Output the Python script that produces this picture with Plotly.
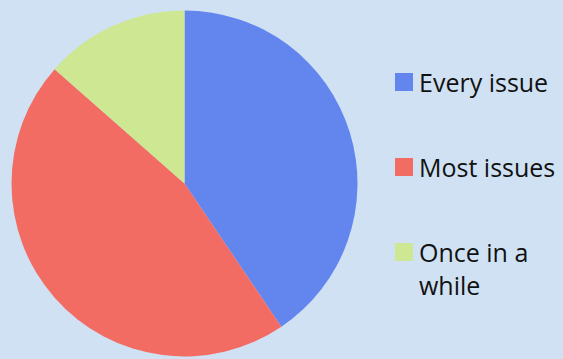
import plotly.graph_objects as go

categories = ["Every issue", "Most issues", "Once in a<br>while"]
values = [30, 34, 10]
colors = ["#6386ee", "#f26c64", "#cde792"]

BG = "#d0e1f3"

fig = go.Figure()
fig.add_trace(go.Pie(
    labels=categories,
    values=values,
    sort=False,
    direction="clockwise",
    rotation=0,
    marker=dict(colors=colors, line=dict(width=0)),
    textinfo="none",
    hoverinfo="label+percent",
    showlegend=False,
    domain=dict(x=[0.0204, 0.6350], y=[0.007, 0.971]),
))

# Custom legend: squares + labels
legend_y = [82, 167, 252]  # square centres (px from top)
W, H = 563, 359
shapes = []
annotations = []
for lab, col, yc in zip(categories, colors, legend_y):
    shapes.append(dict(
        type="rect", xref="paper", yref="paper",
        x0=395 / W, x1=413 / W,
        y0=1 - (yc + 9) / H, y1=1 - (yc - 9) / H,
        fillcolor=col, line=dict(width=0),
    ))
    annotations.append(dict(
        text=lab, xref="paper", yref="paper",
        x=417 / W, y=1 - (yc - 19) / H,
        xanchor="left", yanchor="top", align="left",
        showarrow=False,
        font=dict(family="'Open Sans', sans-serif", size=25, color="#111111"),
    ))

fig.update_layout(
    width=W, height=H,
    margin=dict(l=0, r=0, t=0, b=0),
    paper_bgcolor=BG, plot_bgcolor=BG,
    shapes=shapes, annotations=annotations,
)

fig.write_html("out.html", config={"displayModeBar": False},
               post_script="document.body.style.margin='0';")
